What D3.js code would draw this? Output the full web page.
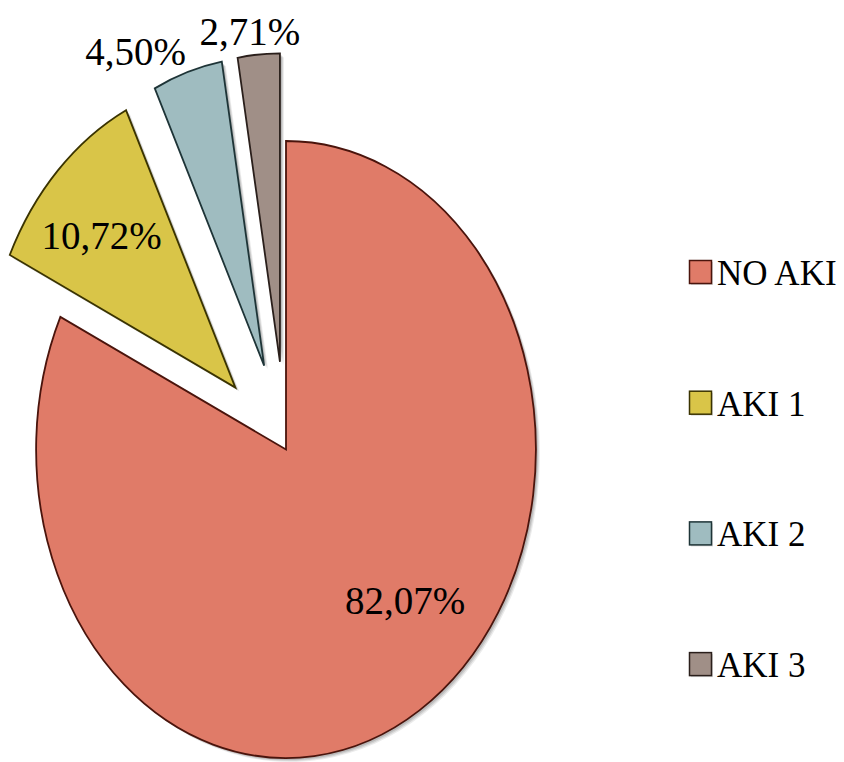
<!DOCTYPE html>
<html>
<head>
<meta charset="utf-8">
<script src="https://cdn.jsdelivr.net/npm/d3@7"></script>
</head>
<body style="margin:0">
<svg id="chart" width="844" height="762"></svg>
<script>
// AKI stage distribution (percent of patients)
const categories = ["NO AKI", "AKI 1", "AKI 2", "AKI 3"];
const values = [82.07, 10.72, 4.50, 2.71];
const valueLabels = ["82,07%", "10,72%", "4,50%", "2,71%"];
const exploded = [false, true, true, true];

const fills   = ["#E07B68", "#D9C548", "#9FBCC0", "#A08F87"];
const strokes = ["#4A140C", "#3A3300", "#1E3437", "#2A1F1B"];

const FONT = "Liberation Serif";

const cx = 286, cy = 449.5;   // pie centre
const R = 308.5;              // vertical radius
const sx = 0.81;              // horizontal squash of the pie
const explodeDist = 88;

// label placement: polar position (radius, angle in degrees) measured from each slice's own vertex
const labelPolar = [
  { r: 211, a: 135.8 },
  { r: 224, a: 312.5 },
  { r: 352, a: 333.2 },
  { r: 332, a: 353.6 }
];

const svg = d3.select("#chart");

const pie = d3.pie().sort(null).value(d => d);
const arcs = pie(values);
const arc = d3.arc().innerRadius(0).outerRadius(R);

const toRad = deg => deg * Math.PI / 180;
// polar point (angle clockwise from 12 o'clock), squashed horizontally
const polar = (r, ang) => [Math.sin(ang) * r * sx, -Math.cos(ang) * r];

// soft shadow layers drawn as offset translucent copies of each slice
const shadowSteps = [[4, 0.08], [3, 0.1], [2, 0.12]];

arcs.forEach((a, i) => {
  const mid = (a.startAngle + a.endAngle) / 2;
  const off = exploded[i] ? polar(explodeDist, mid) : [0, 0];
  const x0 = cx + off[0], y0 = cy + off[1];
  shadowSteps.forEach(([d, op]) => {
    svg.append("path")
      .attr("d", arc(a))
      .attr("transform", `translate(${x0 + d},${y0 + d}) scale(${sx},1)`)
      .attr("fill", "#000")
      .attr("fill-opacity", op);
  });
});

arcs.forEach((a, i) => {
  const mid = (a.startAngle + a.endAngle) / 2;
  const off = exploded[i] ? polar(explodeDist, mid) : [0, 0];
  svg.append("path")
    .attr("d", arc(a))
    .attr("transform", `translate(${cx + off[0]},${cy + off[1]}) scale(${sx},1)`)
    .attr("fill", fills[i])
    .attr("stroke", strokes[i])
    .attr("stroke-width", 1.8)
    .attr("vector-effect", "non-scaling-stroke");
});

// value labels
arcs.forEach((a, i) => {
  const mid = (a.startAngle + a.endAngle) / 2;
  const off = exploded[i] ? polar(explodeDist, mid) : [0, 0];
  const lp = polar(labelPolar[i].r, toRad(labelPolar[i].a));
  svg.append("text")
    .attr("x", cx + off[0] + lp[0])
    .attr("y", cy + off[1] + lp[1] + 13)
    .attr("text-anchor", "middle")
    .attr("font-family", FONT)
    .attr("font-size", 39)
    .text(valueLabels[i]);
});

// legend
const legend = svg.append("g").attr("transform", "translate(689,260)");
categories.forEach((c, i) => {
  const row = legend.append("g").attr("transform", `translate(0,${i * 130.7})`);
  row.append("rect")
    .attr("x", 2).attr("y", 2).attr("width", 22).attr("height", 23)
    .attr("fill", "#000").attr("fill-opacity", 0.15);
  row.append("rect")
    .attr("x", 0.5).attr("y", 0.5).attr("width", 22).attr("height", 23)
    .attr("fill", fills[i]).attr("stroke", strokes[i]).attr("stroke-width", 1.5);
  row.append("text")
    .attr("x", 28).attr("y", 25)
    .attr("font-family", FONT)
    .attr("font-size", 35)
    .text(c);
});
</script>
</body>
</html>
